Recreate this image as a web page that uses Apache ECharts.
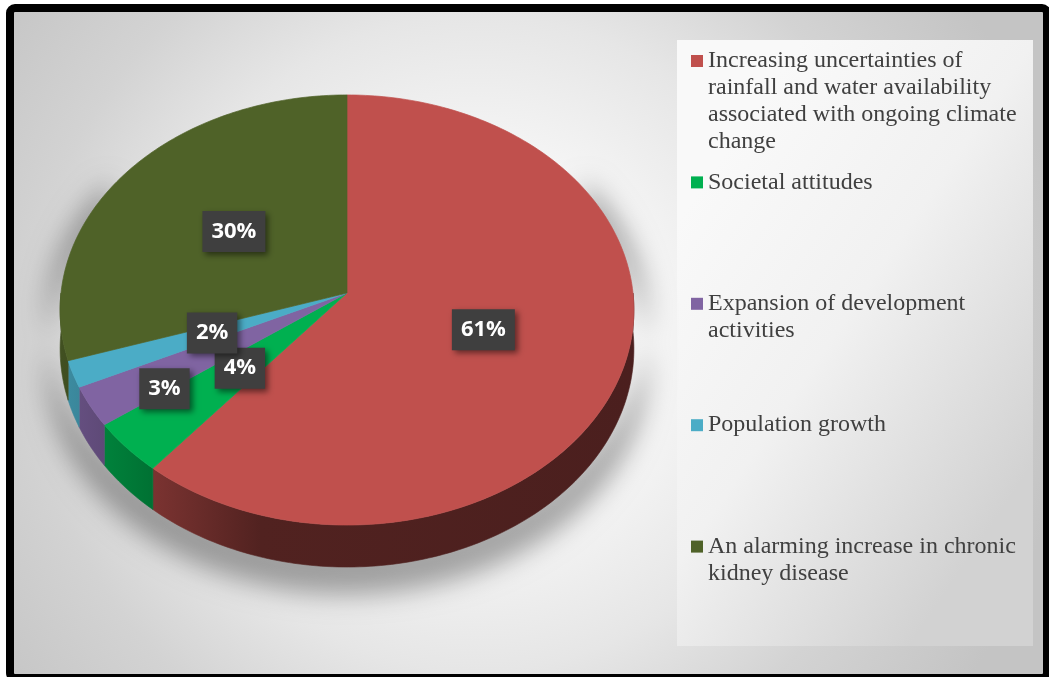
<!DOCTYPE html>
<html>
<head>
<meta charset="utf-8">
<script src="https://cdn.jsdelivr.net/npm/echarts@6/dist/echarts.min.js"></script>
<style>
  html, body { margin: 0; padding: 0; background: #fff; }
  #chart { width: 1049px; height: 677px; }
</style>
</head>
<body>
<div id="chart"></div>
<script>
// chart data
const categories = [
  'Increasing uncertainties of rainfall and water availability associated with ongoing climate change',
  'Societal attitudes',
  'Expansion of development activities',
  'Population growth',
  'An alarming increase in chronic kidney disease'
]
const values = [61, 4, 3, 2, 30] // percent
const colors = ['#C0504D', '#00B050', '#8064A2', '#4BACC6', '#4F6228']

// tilted pie geometry (screen px)
const CX = 347, CY = 293      // apex of the slices
const RX = 286, RY = 213.7    // radii of the top face
const PERSP = 0.079           // near side drawn a little bigger
const DEPTH = 38.7            // thickness of the pie
const labelDist = [0.5, 0.5, 0.72, 0.5, 0.5] // label radius, share of the radius
const labelShiftY = [0, 0, 15, 0, 0]        // 3% label pushed down like the original

// legend layout
const legendLeft = 691, legendFirst = 61, legendStep = 121.4
const legendFont = 24, legendLine = 27, legendWidth = 318

const total = values.reduce((a, b) => a + b, 0)

// angle clockwise from 12 o'clock -> screen point
function project(theta, f, drop) {
  const s = Math.sin(theta), c = Math.cos(theta)
  const k = 1 + PERSP * f * c
  return [CX + RX * f * s / k, CY - RY * f * c / k + (drop || 0) / k]
}
function arc(from, to, drop, f) {
  const pts = []
  const n = Math.max(2, Math.ceil(Math.abs(to - from) / (Math.PI / 180)))
  for (let i = 0; i <= n; i++) {
    pts.push(project(from + (to - from) * i / n, f || 1, drop))
  }
  return pts
}
function shade(hex, m) {
  const v = parseInt(hex.slice(1), 16)
  const r = Math.round(((v >> 16) & 255) * m)
  const g = Math.round(((v >> 8) & 255) * m)
  const b = Math.round((v & 255) * m)
  return 'rgb(' + r + ',' + g + ',' + b + ')'
}
function wallFill(hex) {
  return {
    type: 'linear', x: CX - RX, y: 0, x2: CX + RX, y2: 0, global: true,
    colorStops: [
      { offset: 0, color: shade(hex, 0.82) },
      { offset: 0.16, color: shade(hex, 0.64) },
      { offset: 0.35, color: shade(hex, 0.42) },
      { offset: 1, color: shade(hex, 0.39) }
    ]
  }
}

const OFF = 3000 // shadow caster is drawn off screen, only its shadow lands here

function renderSlice(k) {
  return function (params, api) {
    let before = 0
    for (let i = 0; i < k; i++) before += values[i]
    const a0 = before / total * Math.PI * 2
    const a1 = (before + api.value(0)) / total * Math.PI * 2
    const children = []
    if (k === 0) {
      // soft shadow a bit wider than the pie, like the original
      const body = arc(Math.PI / 2 - 0.6, Math.PI * 1.5 + 0.6, 0, 1.05)
        .concat(arc(Math.PI * 1.5 + 0.6, Math.PI / 2 - 0.6, DEPTH + 6, 1.05))
        .map(p => [p[0] - OFF, p[1]])
      children.push({
        type: 'polygon', z2: -10, shape: { points: body },
        style: { fill: '#000', shadowBlur: 26, shadowOffsetX: OFF, shadowOffsetY: 8, shadowColor: 'rgba(0,0,0,0.33)' }
      })
    }
    // outer wall, only the front half is seen
    const w0 = Math.max(a0, Math.PI / 2)
    const w1 = Math.min(a1, Math.PI * 1.5)
    if (w1 > w0) {
      const wall = arc(w0, w1, 0).concat(arc(w1, w0, DEPTH))
      const fill = wallFill(colors[k])
      children.push({
        type: 'polygon', z2: 1, shape: { points: wall },
        style: { fill: fill, stroke: fill, lineWidth: 0.6 }
      })
    }
    // top face
    const top = [project(0, 0, 0)].concat(arc(a0, a1, 0))
    children.push({
      type: 'polygon', z2: 2, shape: { points: top },
      style: { fill: colors[k], stroke: colors[k], lineWidth: 0.7 }
    })
    // data label
    const p = project((a0 + a1) / 2, labelDist[k], 0)
    children.push({
      type: 'text', z2: 100,
      style: {
        text: api.value(0) + '%', x: p[0], y: p[1] + labelShiftY[k],
        align: 'center', verticalAlign: 'middle',
        font: 'bold 22px "Open Sans", sans-serif', fill: '#fff',
        backgroundColor: '#3f3f3f', padding: [10, 9, 9, 9],
        shadowBlur: 6, shadowColor: 'rgba(0,0,0,0.5)', shadowOffsetX: 3, shadowOffsetY: 3
      }
    })
    return { type: 'group', children: children }
  }
}

// wrap legend names the way the original did
const ctx = document.createElement('canvas').getContext('2d')
ctx.font = legendFont + 'px "Liberation Serif"'
function wrapText(text, width) {
  const words = text.split(' ')
  const lines = []
  let line = ''
  words.forEach(w => {
    const test = line ? line + ' ' + w : w
    if (ctx.measureText(test).width > width && line) {
      lines.push(line)
      line = w
    } else {
      line = test
    }
  })
  lines.push(line)
  return lines
}

const chart = echarts.init(document.getElementById('chart'))

// one legend per entry so the entries sit at even steps;
// blank lines in front keep the marker level with the first text line
const legends = categories.map((name, i) => {
  const lines = wrapText(name, legendWidth)
  const n = lines.length
  const markerY = legendFirst + i * legendStep
  const label = new Array(n).join('\n') + lines.join('\n')
  return {
    data: [name],
    orient: 'vertical',
    left: legendLeft,
    top: markerY - legendLine / 2 * (2 * n - 1),
    padding: 0,
    icon: 'rect',
    itemWidth: 12,
    itemHeight: 12,
    selectedMode: false,
    formatter: () => label,
    textStyle: {
      fontFamily: 'Liberation Serif',
      fontSize: legendFont,
      lineHeight: legendLine,
      color: '#404040',
      backgroundColor: 'transparent'
    }
  }
})

const option = {
  animation: false,
  backgroundColor: '#fff',
  graphic: [
    {
      type: 'rect', z: -10, silent: true,
      shape: { x: 14, y: 12, width: 1029, height: 662 },
      style: {
        fill: {
          type: 'radial', x: 0.45, y: 0.5, r: 0.9,
          colorStops: [
            { offset: 0, color: '#ffffff' },
            { offset: 0.3, color: '#f6f6f6' },
            { offset: 0.55, color: '#e6e6e6' },
            { offset: 0.75, color: '#d3d3d3' },
            { offset: 1, color: '#c4c4c4' }
          ]
        }
      }
    },
    {
      type: 'rect', z: -9, silent: true,
      shape: { x: 677, y: 40, width: 356, height: 606 },
      style: {
        fill: {
          type: 'linear', x: 0, y: 0.3, x2: 1, y2: 0.7,
          colorStops: [
            { offset: 0, color: '#f9f9f9' },
            { offset: 0.45, color: '#f1f1f1' },
            { offset: 1, color: '#d2d2d2' }
          ]
        }
      }
    },
    {
      type: 'rect', z: 100, silent: true,
      shape: { x: 10, y: 8, width: 1037, height: 670, r: 5 },
      style: { fill: null, stroke: '#000', lineWidth: 8 }
    }
  ],
  legend: legends,
  series: categories.map((name, k) => ({
    type: 'custom',
    name: name,
    coordinateSystem: 'none',
    silent: true,
    itemStyle: { color: colors[k] },
    data: [[values[k]]],
    renderItem: renderSlice(k)
  }))
}

chart.setOption(option)
</script>
</body>
</html>
